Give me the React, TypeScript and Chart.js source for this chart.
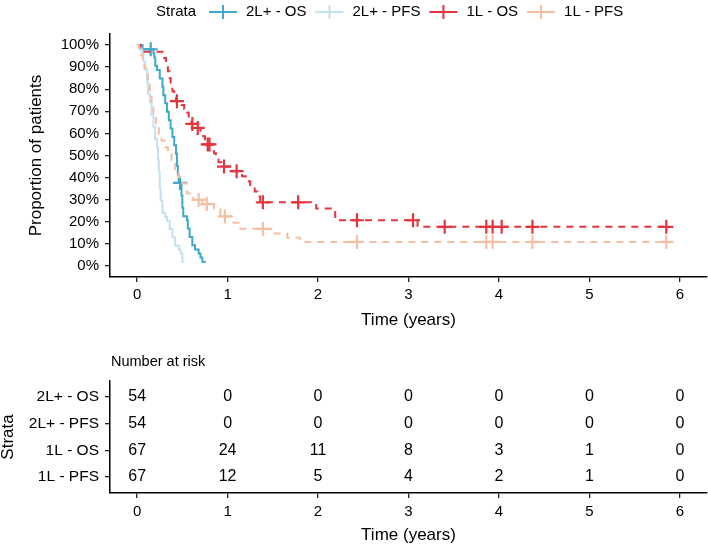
import React, { useEffect, useRef } from 'react';
import { Chart, registerables } from 'chart.js';

Chart.register(...registerables);

const FONT = '"Liberation Sans", Arial, sans-serif';

const strata = ['2L+ - OS', '2L+ - PFS', '1L - OS', '1L - PFS'];
const colors = ['#3DA9CB', '#C4E1EE', '#E2353E', '#F5BFA4'];
const dashes: number[][] = [[], [], [7, 6], [7, 6]];

// 2L+ - OS (Kaplan-Meier steps: time in years, survival %)
const os2Times = [0, 0.06, 0.18, 0.19, 0.2, 0.22, 0.25, 0.28, 0.29, 0.31, 0.33, 0.35, 0.37, 0.39, 0.41, 0.43, 0.44, 0.45, 0.46, 0.49, 0.5, 0.51, 0.55, 0.56, 0.58, 0.61, 0.64, 0.68, 0.7, 0.72, 0.76];
const os2Surv = [100, 98.1, 96.3, 94.4, 90.6, 88.7, 84.9, 81.1, 77.3, 73.6, 69.8, 66.0, 62.2, 58.4, 54.6, 50.8, 45.2, 41.4, 37.6, 31.9, 26.3, 22.5, 20.6, 16.9, 13.1, 9.4, 7.5, 5.6, 3.8, 1.9, 1.9];
const os2Censor = [0.15, 0.475];

// 2L+ - PFS
const pfs2Times = [0, 0.03, 0.05, 0.07, 0.09, 0.11, 0.12, 0.14, 0.16, 0.18, 0.2, 0.22, 0.23, 0.24, 0.25, 0.26, 0.28, 0.31, 0.33, 0.36, 0.39, 0.42, 0.46, 0.48, 0.5, 0.52];
const pfs2Surv = [100, 98.1, 96.3, 92.6, 88.9, 83.3, 77.8, 74.1, 68.5, 63.0, 57.4, 53.7, 48.1, 42.6, 35.2, 29.6, 24.1, 22.2, 20.4, 16.7, 13.0, 9.3, 7.4, 5.6, 1.9, 1.9];
const pfs2Censor: number[] = [];

// 1L - OS
const os1Times = [0, 0.04, 0.08, 0.3, 0.32, 0.34, 0.36, 0.37, 0.39, 0.41, 0.43, 0.49, 0.52, 0.55, 0.57, 0.59, 0.6, 0.65, 0.7, 0.73, 0.75, 0.77, 0.83, 0.85, 0.87, 0.9, 0.93, 1.03, 1.16, 1.2, 1.25, 1.3, 1.33, 1.36, 1.98, 2.19, 3.1, 5.85];
const os1Surv = [100, 98.5, 97.0, 94.0, 91.0, 88.1, 85.1, 82.1, 79.1, 76.1, 74.6, 72.9, 71.2, 69.5, 67.7, 66.0, 64.3, 62.5, 60.6, 58.7, 56.9, 55.0, 53.0, 51.0, 49.0, 47.0, 45.0, 42.9, 40.6, 38.3, 36.0, 33.7, 31.4, 28.8, 26.0, 20.7, 17.7, 17.7];
const os1Censor = [0.44, 0.61, 0.67, 0.78, 0.8, 0.96, 1.1, 1.39, 1.78, 2.43, 3.05, 3.4, 3.86, 3.93, 4.03, 4.37, 5.85];

// 1L - PFS
const pfs1Times = [0, 0.02, 0.04, 0.06, 0.08, 0.1, 0.12, 0.14, 0.16, 0.18, 0.21, 0.24, 0.27, 0.31, 0.34, 0.38, 0.42, 0.46, 0.5, 0.55, 0.62, 0.72, 0.85, 0.92, 1.05, 1.12, 1.52, 1.66, 1.8, 5.85];
const pfs1Surv = [100, 98.5, 95.5, 92.5, 89.6, 86.6, 82.1, 77.6, 73.1, 68.7, 64.2, 59.7, 56.7, 53.7, 50.7, 47.8, 43.3, 40.3, 37.3, 32.8, 29.9, 28.0, 25.7, 22.4, 19.6, 16.8, 14.7, 12.8, 10.9, 10.9];
const pfs1Censor = [0.68, 0.77, 0.97, 1.39, 2.43, 3.86, 3.93, 4.37, 5.85];

const curveTimes = [os2Times, pfs2Times, os1Times, pfs1Times];
const curveSurv = [os2Surv, pfs2Surv, os1Surv, pfs1Surv];
const curveCensor = [os2Censor, pfs2Censor, os1Censor, pfs1Censor];

// Number at risk table
const riskTimes = [0, 1, 2, 3, 4, 5, 6];
const risk2LOS = [54, 0, 0, 0, 0, 0, 0];
const risk2LPFS = [54, 0, 0, 0, 0, 0, 0];
const risk1LOS = [67, 24, 11, 8, 3, 1, 0];
const risk1LPFS = [67, 12, 5, 4, 2, 1, 0];
const riskRows = [risk2LOS, risk2LPFS, risk1LOS, risk1LPFS];

const xTicks = [0, 1, 2, 3, 4, 5, 6];
const yTicks = [0, 10, 20, 30, 40, 50, 60, 70, 80, 90, 100];

function survAt(times: number[], surv: number[], t: number) {
  let v = surv[0];
  for (let i = 0; i < times.length; i++) {
    if (times[i] <= t) v = surv[i];
  }
  return v;
}

const axisCommon = {
  border: { display: true, color: '#000', width: 1.5 },
  grid: { display: true, drawOnChartArea: false, drawTicks: true, tickLength: 5, color: '#222', lineWidth: 1.3 },
};

const legendPlugin = {
  id: 'kmLegend',
  afterDraw(chart: any) {
    const ctx = chart.ctx;
    ctx.save();
    ctx.font = `15px ${FONT}`;
    ctx.textBaseline = 'middle';
    ctx.fillStyle = '#000';
    let x = 156;
    const y = 12;
    ctx.fillText('Strata', x, y);
    x += ctx.measureText('Strata').width + 13;
    strata.forEach((s, i) => {
      ctx.strokeStyle = colors[i];
      ctx.lineWidth = 2;
      ctx.beginPath();
      ctx.moveTo(x, y);
      ctx.lineTo(x + 28, y);
      ctx.moveTo(x + 14, y - 7);
      ctx.lineTo(x + 14, y + 7);
      ctx.stroke();
      x += 28 + 9;
      ctx.fillStyle = '#000';
      ctx.fillText(s, x, y);
      x += ctx.measureText(s).width + 9;
    });
    ctx.restore();
  },
};

const riskPlugin = {
  id: 'riskText',
  afterDatasetsDraw(chart: any) {
    const ctx = chart.ctx;
    ctx.save();
    ctx.font = `16px ${FONT}`;
    ctx.textAlign = 'center';
    ctx.textBaseline = 'middle';
    ctx.fillStyle = '#000';
    chart.data.datasets.forEach((ds: any, di: number) => {
      const meta = chart.getDatasetMeta(di);
      meta.data.forEach((el: any, j: number) => {
        ctx.fillText(String(ds.data[j].v), el.x, el.y);
      });
    });
    ctx.textAlign = 'left';
    ctx.font = `14.5px ${FONT}`;
    ctx.fillText('Number at risk', chart.chartArea.left + 1, chart.chartArea.top - 19);
    ctx.restore();
  },
};

export default function App() {
  const topRef = useRef<HTMLCanvasElement>(null);
  const tableRef = useRef<HTMLCanvasElement>(null);

  useEffect(() => {
    const datasets: any[] = [];
    for (let i = 0; i < 4; i++) {
      datasets.push({
        type: 'line',
        data: curveTimes[i].map((t, j) => ({ x: t, y: curveSurv[i][j] })),
        borderColor: colors[i],
        borderWidth: 2,
        borderDash: dashes[i],
        stepped: true,
        pointRadius: 0,
        fill: false,
        order: 4 - i,
      });
    }
    for (let i = 0; i < 4; i++) {
      datasets.push({
        type: 'line',
        showLine: false,
        data: curveCensor[i].map((t) => ({ x: t, y: survAt(curveTimes[i], curveSurv[i], t) })),
        borderColor: colors[i],
        backgroundColor: colors[i],
        pointStyle: 'cross',
        pointRadius: 7,
        pointBorderWidth: 2.2,
        order: 4 - i,
      });
    }

    const top = new Chart(topRef.current!, {
      type: 'line',
      data: { datasets },
      options: {
        responsive: false,
        animation: false,
        layout: { autoPadding: false, padding: { top: 34, left: 0, right: 1, bottom: 0 } },
        plugins: { legend: { display: false }, tooltip: { enabled: false } },
        scales: {
          x: {
            type: 'linear',
            min: -0.3,
            max: 6.3,
            ...axisCommon,
            afterBuildTicks: (s: any) => { s.ticks = xTicks.map((v) => ({ value: v })); },
            afterFit: (s: any) => { s.height = 63; },
            ticks: { color: '#000', font: { family: FONT, size: 15, lineHeight: 1.2 }, padding: 4, maxRotation: 0, callback: (v: any) => String(v) },
            title: { display: true, text: 'Time (years)', color: '#000', font: { family: FONT, size: 17, lineHeight: 1 }, padding: { top: 0, bottom: 11.5 } },
          },
          y: {
            type: 'linear',
            min: -5,
            max: 105,
            ...axisCommon,
            afterBuildTicks: (s: any) => { s.ticks = yTicks.map((v) => ({ value: v })); },
            afterFit: (s: any) => { s.width = 110; },
            ticks: { color: '#000', font: { family: FONT, size: 15 }, padding: 6, callback: (v: any) => `${v}%` },
            title: { display: true, text: 'Proportion of patients', color: '#000', font: { family: FONT, size: 17, lineHeight: 1 }, padding: { top: 27.5, bottom: 0 } },
          },
        },
      } as any,
      plugins: [legendPlugin],
    });

    const tableDatasets = riskRows.map((row, r) => ({
      type: 'line',
      showLine: false,
      pointRadius: 0,
      data: riskTimes.map((t, j) => ({ x: t, y: r + 1, v: row[j] })),
    }));

    const table = new Chart(tableRef.current!, {
      type: 'line',
      data: { datasets: tableDatasets as any },
      options: {
        responsive: false,
        animation: false,
        layout: { autoPadding: false, padding: { top: 41, left: 0, right: 1, bottom: 0 } },
        plugins: { legend: { display: false }, tooltip: { enabled: false } },
        scales: {
          x: {
            type: 'linear',
            min: -0.3,
            max: 6.3,
            ...axisCommon,
            afterBuildTicks: (s: any) => { s.ticks = riskTimes.map((v) => ({ value: v })); },
            afterFit: (s: any) => { s.height = 53; },
            ticks: { color: '#000', font: { family: FONT, size: 15, lineHeight: 1.2 }, padding: 5, maxRotation: 0, callback: (v: any) => String(v) },
            title: { display: true, text: 'Time (years)', color: '#000', font: { family: FONT, size: 17, lineHeight: 1 }, padding: { top: 0, bottom: 2.5 } },
          },
          y: {
            type: 'linear',
            min: 0.4,
            max: 4.6,
            reverse: true,
            ...axisCommon,
            afterBuildTicks: (s: any) => { s.ticks = [1, 2, 3, 4].map((v) => ({ value: v })); },
            afterFit: (s: any) => { s.width = 110; },
            ticks: { color: '#000', font: { family: FONT, size: 15.5 }, padding: 6, callback: (v: any) => strata[Number(v) - 1] },
            title: { display: true, text: 'Strata', color: '#000', font: { family: FONT, size: 17, lineHeight: 1 }, padding: { top: 0, bottom: 0 } },
          },
        },
      } as any,
      plugins: [riskPlugin],
    });

    return () => {
      top.destroy();
      table.destroy();
    };
  }, []);

  return (
    <div style={{ position: 'absolute', left: 0, top: 0, width: 708, height: 546, background: '#fff' }}>
      <canvas ref={topRef} width={708} height={340} style={{ position: 'absolute', left: 0, top: 0, display: 'block' }} />
      <canvas ref={tableRef} width={708} height={206} style={{ position: 'absolute', left: 0, top: 340, display: 'block' }} />
    </div>
  );
}
